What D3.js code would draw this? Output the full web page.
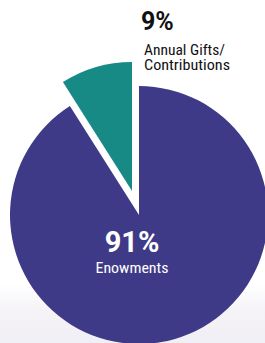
<!doctype html>
<html>
<head>
<meta charset="utf-8" />
<script src="https://d3js.org/d3.v7.min.js"></script>
<style>
  html, body { margin: 0; padding: 0; background: #fff; }
  svg { display: block; }
</style>
</head>
<body>
<div id="chart"></div>
<script>
var categories = ["Enowments", "Annual Gifts/Contributions"];
var values = [91, 9];
var colors = ["#3e3a87", "#178a86"];
var labelLines = [["Enowments"], ["Annual Gifts/", "Contributions"]];

var width = 265, height = 343;
var cx = 139, cy = 215, radius = 129, explode = 25;
var narrow = "'Liberation Sans Narrow', 'Roboto Condensed', Roboto, sans-serif";

var svg = d3.select("#chart").append("svg")
  .attr("width", width).attr("height", height);

// faint haze at the bottom
var defs = svg.append("defs");
var grad = defs.append("linearGradient").attr("id", "haze")
  .attr("x1", 0).attr("y1", 0).attr("x2", 0).attr("y2", 1);
grad.append("stop").attr("offset", "0%").attr("stop-color", "#fff");
grad.append("stop").attr("offset", "83%").attr("stop-color", "#fff");
grad.append("stop").attr("offset", "90%").attr("stop-color", "#f6f3f7");
grad.append("stop").attr("offset", "100%").attr("stop-color", "#f0eff5");
svg.append("rect").attr("width", width).attr("height", height).attr("fill", "url(#haze)");

// 91% clockwise from top, 9% fills the rest
var pie = d3.pie().sort(null).startAngle(0).endAngle(2 * Math.PI);
var arcs = pie(values);
var arc = d3.arc().innerRadius(0).outerRadius(radius);

var g = svg.append("g").attr("transform", "translate(" + cx + "," + cy + ")");

g.selectAll("path").data(arcs).enter().append("path")
  .attr("d", arc)
  .attr("fill", function(d, i) { return colors[i]; })
  .attr("transform", function(d, i) {
    if (i !== 1) return null;
    var a = (d.startAngle + d.endAngle) / 2;
    return "translate(" + (Math.sin(a) * explode) + "," + (-Math.cos(a) * explode) + ")";
  });

// big label inside purple slice
svg.append("text").attr("x", 132).attr("y", 252)
  .attr("text-anchor", "middle")
  .attr("font-family", "Roboto, sans-serif").attr("font-weight", "bold")
  .attr("font-size", 29).attr("fill", "#fff")
  .text(values[0] + "%");
svg.append("text").attr("x", 132).attr("y", 273)
  .attr("text-anchor", "middle")
  .attr("font-family", narrow)
  .attr("font-size", 15).attr("fill", "#fff")
  .attr("textLength", 73).attr("lengthAdjust", "spacingAndGlyphs")
  .text(labelLines[0][0]);

// label for teal slice, top right
svg.append("text").attr("x", 141).attr("y", 30)
  .attr("font-family", "Roboto, sans-serif").attr("font-weight", "bold")
  .attr("font-size", 25).attr("fill", "#111")
  .text(values[1] + "%");
var lens = [81, 86];
labelLines[1].forEach(function(t, i) {
  svg.append("text").attr("x", 144).attr("y", 54.5 + i * 15.5)
    .attr("font-family", narrow)
    .attr("font-size", 14).attr("fill", "#111")
    .attr("textLength", lens[i]).attr("lengthAdjust", "spacingAndGlyphs")
    .text(t);
});
</script>
</body>
</html>
